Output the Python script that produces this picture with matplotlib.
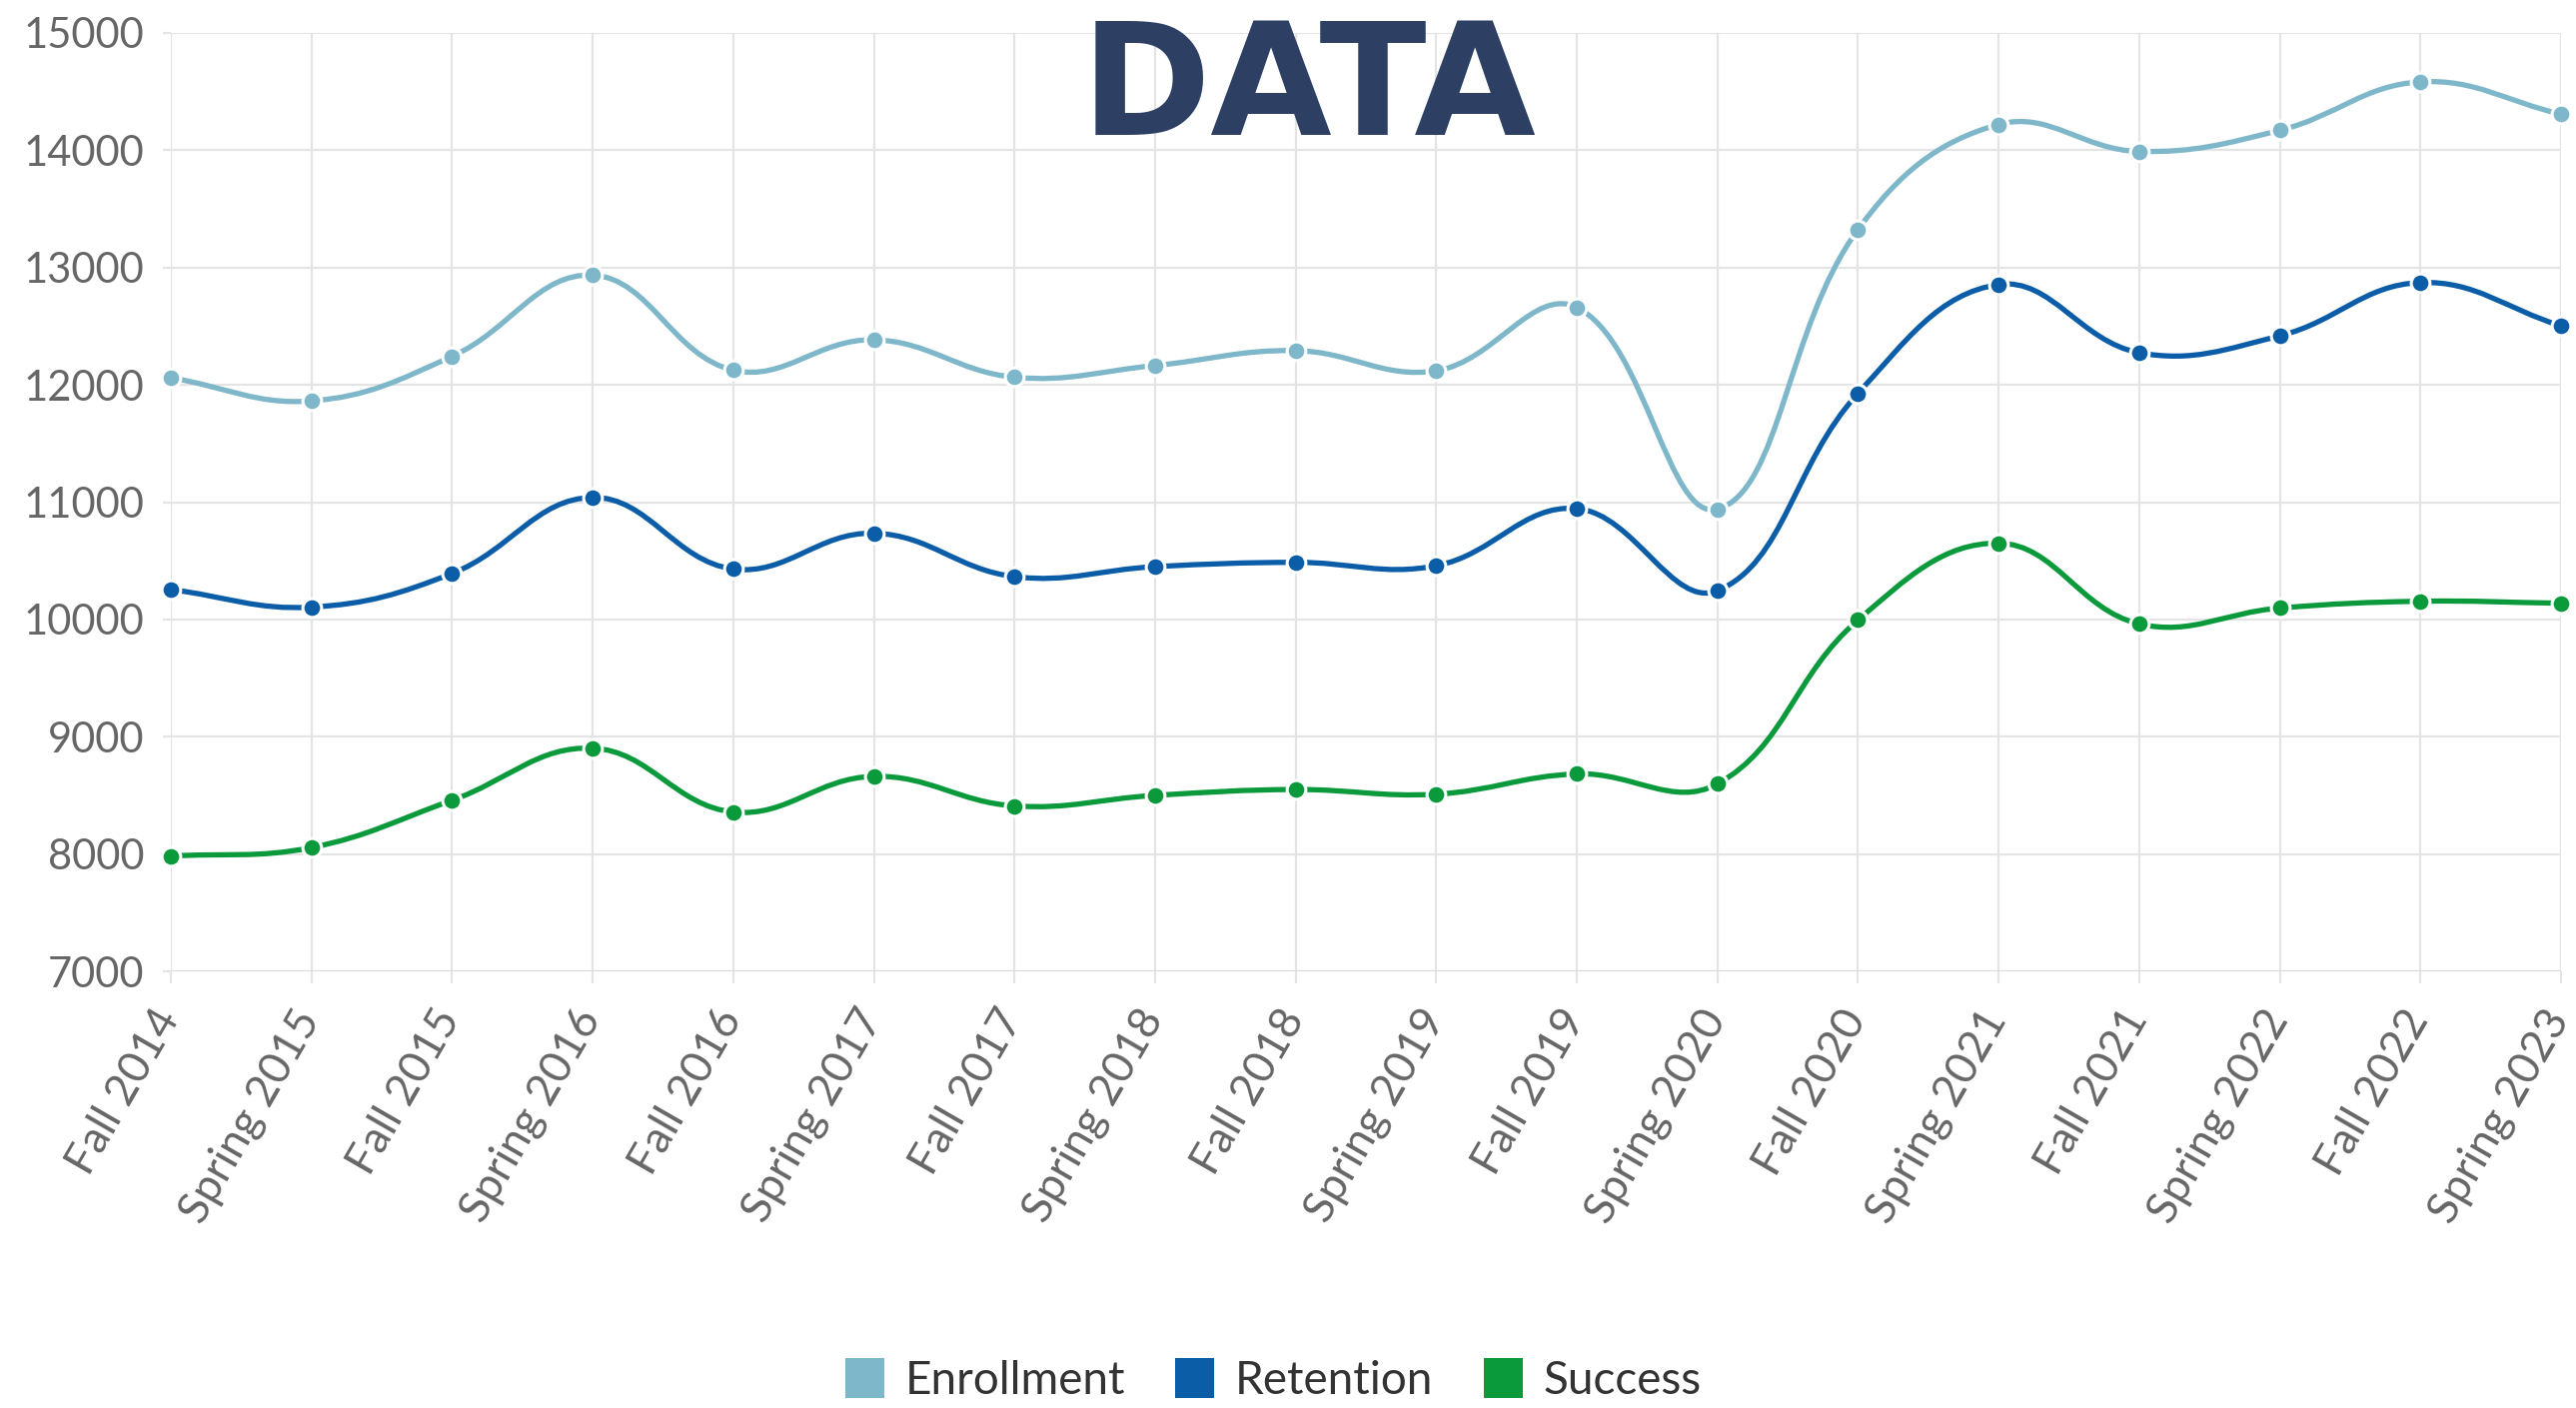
import numpy as np
import matplotlib
matplotlib.use("Agg")
import matplotlib.pyplot as plt
import matplotlib.transforms as mtransforms
from matplotlib.path import Path
from matplotlib.patches import PathPatch, Patch

# ---- data ----
terms = ["Fall 2014", "Spring 2015", "Fall 2015", "Spring 2016", "Fall 2016",
         "Spring 2017", "Fall 2017", "Spring 2018", "Fall 2018", "Spring 2019",
         "Fall 2019", "Spring 2020", "Fall 2020", "Spring 2021", "Fall 2021",
         "Spring 2022", "Fall 2022", "Spring 2023"]
enrollment = [12060, 11863, 12243, 12935, 12125, 12384, 12065, 12165, 12292,
              12120, 12660, 10940, 13325, 14220, 13990, 14170, 14583, 14308]
retention = [10255, 10105, 10392, 11040, 10430, 10735, 10365, 10450, 10487,
             10458, 10945, 10245, 11928, 12855, 12274, 12418, 12872, 12503]
success = [7982, 8055, 8458, 8902, 8358, 8662, 8410, 8500, 8550,
           8510, 8683, 8598, 9995, 10650, 9962, 10097, 10155, 10138]
series_names = ["Enrollment", "Retention", "Success"]
series_colors = ["#7EB7C9", "#0B5DA8", "#0A9A3C"]
y_ticks = [7000, 8000, 9000, 10000, 11000, 12000, 13000, 14000, 15000]

W, H = 2578, 1409
fig = plt.figure(figsize=(W / 100, H / 100), dpi=100)
ax_l, ax_r, ax_t, ax_b = 171, 2563, 33, 972
ax = fig.add_axes([ax_l / W, 1 - ax_b / H, (ax_r - ax_l) / W, (ax_b - ax_t) / H])

n = len(terms)
xs = np.arange(n)
ax.set_xlim(0, n - 1)
ax.set_ylim(7000, 15000)

px_x = (ax_r - ax_l) / (n - 1)
px_y = (ax_b - ax_t) / 8000.0


def spline_path(x, y, tension=0.4):
    X = np.asarray(x, float) * px_x
    Y = np.asarray(y, float) * px_y
    m = len(X)
    cp_prev = np.zeros((m, 2))
    cp_next = np.zeros((m, 2))
    for i in range(m):
        p = np.array([X[i], Y[i]])
        pr = np.array([X[max(i - 1, 0)], Y[max(i - 1, 0)]])
        nx = np.array([X[min(i + 1, m - 1)], Y[min(i + 1, m - 1)]])
        d01 = np.hypot(*(p - pr))
        d12 = np.hypot(*(nx - p))
        tot = d01 + d12
        s01 = d01 / tot if tot else 0
        s12 = d12 / tot if tot else 0
        cp_prev[i] = p - tension * s01 * (nx - pr)
        cp_next[i] = p + tension * s12 * (nx - pr)
    verts = [(X[0], Y[0])]
    codes = [Path.MOVETO]
    for i in range(m - 1):
        verts += [tuple(cp_next[i]), tuple(cp_prev[i + 1]), (X[i + 1], Y[i + 1])]
        codes += [Path.CURVE4] * 3
    verts = np.array(verts)
    verts[:, 0] /= px_x
    verts[:, 1] /= px_y
    return Path(verts, codes)


grid_c = "#E4E4E4"
for yv in y_ticks:
    ax.axhline(yv, color=grid_c, lw=1.6, zorder=0)
for xv in xs:
    ax.axvline(xv, color=grid_c, lw=1.6, zorder=0)
ax.axhline(7000, color="#D8D8D8", lw=2, zorder=0.5)

for vals, col in zip([enrollment, retention, success], series_colors):
    path = spline_path(xs, vals)
    ax.add_patch(PathPatch(path, facecolor="none", edgecolor=col, lw=3.8,
                           zorder=2, capstyle="round", joinstyle="round", clip_on=False))
    ax.plot(xs, vals, linestyle="none", marker="o", markersize=13.5,
            markerfacecolor=col, markeredgecolor="white", markeredgewidth=2.2,
            zorder=3, clip_on=False)

for s in ax.spines.values():
    s.set_visible(False)

ax.set_yticks(y_ticks)
ax.set_yticklabels([str(v) for v in y_ticks])
ax.set_xticks(xs)
ax.set_xticklabels(terms, rotation=60, ha="right", rotation_mode="anchor")
ax.tick_params(axis="y", length=6, width=1.6, color=grid_c, pad=13,
               labelsize=30, labelcolor="#666666")
ax.tick_params(axis="x", length=8.6, width=1.6, color=grid_c, pad=14,
               labelsize=32, labelcolor="#666666")
shift = mtransforms.ScaledTranslation(-19 / 100, 0, fig.dpi_scale_trans)
for lbl in ax.get_xticklabels():
    lbl.set_fontfamily("Lato")
    lbl.set_transform(lbl.get_transform() + shift)
for lbl in ax.get_yticklabels():
    lbl.set_fontfamily("Lato")

fig.text(1310 / W, 1 - 135 / H, "DATA", ha="center", va="baseline",
         fontsize=113, fontweight="bold", color="#2D4064",
         family="DejaVu Sans", zorder=5)

handles = [Patch(facecolor=c, edgecolor="none") for c in series_colors]
leg = fig.legend(handles, series_names, loc="center", bbox_to_anchor=(1274 / W, 1 - 1381 / H),
                 ncol=3, frameon=False, handlelength=0.85, handleheight=0.95,
                 handletextpad=0.45, columnspacing=1.1,
                 prop={"family": "Lato", "size": 33})
for t in leg.get_texts():
    t.set_color("#333333")

fig.savefig("out.png", dpi=100, facecolor="white")
